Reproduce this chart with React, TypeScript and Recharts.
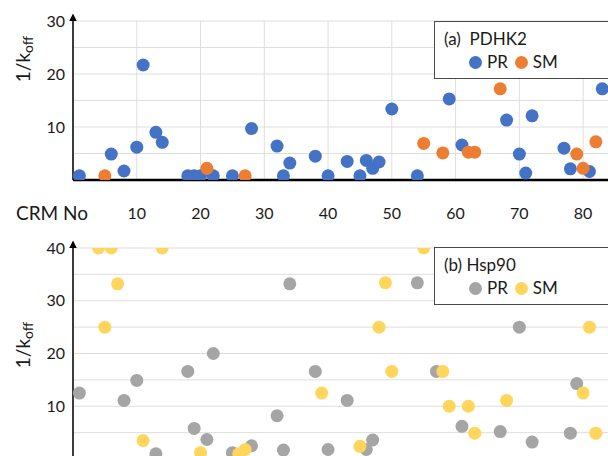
import { ScatterChart, Scatter, XAxis, YAxis, CartesianGrid, Legend } from 'recharts';

const FONT = 'Lato, "Open Sans", sans-serif';

// CRM number axis
const crmTicks = [10, 20, 30, 40, 50, 60, 70, 80];
const pdhkYTicks = [0, 5, 10, 15, 20, 25, 30];
const hspYTicks = [0, 5, 10, 15, 20, 25, 30, 35, 40];

// (a) PDHK2
const pdhkPrX = [1, 6, 8, 10, 11, 13, 14, 18, 19, 20, 22, 25, 28, 32, 33, 34, 38, 40, 43, 45, 46, 47, 48, 50, 54, 59, 61, 68, 70, 71, 72, 77, 78, 81, 83];
const pdhkPrY = [0.8, 4.9, 1.7, 6.2, 21.7, 9, 7.1, 0.8, 0.8, 0.8, 0.8, 0.8, 9.7, 6.4, 0.8, 3.2, 4.5, 0.8, 3.5, 0.8, 3.7, 2.2, 3.4, 13.4, 0.8, 15.3, 6.6, 11.3, 4.9, 1.3, 12.1, 6, 2.1, 1.6, 17.2];
const pdhkSmX = [5, 21, 27, 55, 58, 62, 63, 67, 79, 80, 82];
const pdhkSmY = [0.8, 2.2, 0.8, 6.9, 5.1, 5.25, 5.25, 17.2, 4.9, 2.2, 7.2];

// (b) Hsp90
const hspPrX = [1, 8, 10, 13, 18, 19, 21, 22, 25, 28, 32, 33, 34, 38, 40, 43, 46, 47, 54, 57, 61, 67, 70, 72, 78, 79];
const hspPrY = [12.5, 11.1, 14.9, 1, 16.6, 5.8, 3.7, 20, 1.2, 2.5, 8.2, 1.7, 33.2, 16.6, 1.8, 11.1, 1.8, 3.6, 33.4, 16.6, 6.2, 5.2, 25, 3.2, 4.9, 14.3];
const hspSmX = [4, 5, 6, 7, 11, 14, 20, 26, 27, 39, 45, 48, 49, 50, 55, 58, 59, 62, 63, 68, 80, 81, 82];
const hspSmY = [40, 25, 40, 33.2, 3.5, 40, 1.2, 1, 1.8, 12.5, 2.4, 25, 33.4, 16.6, 40, 16.6, 10, 10, 4.9, 11.1, 12.5, 25, 4.9];

const zip = (xs: number[], ys: number[]) => xs.map((x, i) => ({ x, y: ys[i] }));

const Dot = (p: any) => <circle cx={p.cx} cy={p.cy} r={6.5} fill={p.fill} />;

const tenOnly = (v: number) => (v !== 0 && v % 10 === 0 ? String(v) : '');

function YLabel({ viewBox, centerY }: any) {
  const x = 30;
  const y = viewBox.y + centerY;
  return (
    <text x={x} y={y} transform={`rotate(-90 ${x} ${y})`} textAnchor="middle" fontSize={19} fill="#1a1a1a" fontFamily={FONT}>
      1/k<tspan dy={3} fontSize={14}>off</tspan>
    </text>
  );
}

function makeLegend(title: string) {
  return ({ payload }: any) => (
    <div
      style={{
        width: 190,
        height: 58,
        boxSizing: 'border-box',
        border: '1.5px solid #4a4a4a',
        background: '#fff',
        position: 'relative',
        fontFamily: FONT,
        color: '#1a1a1a',
      }}
    >
      <div style={{ position: 'absolute', left: 9, top: 6, fontSize: 17, lineHeight: '22px', whiteSpace: 'pre' }}>{title}</div>
      <div style={{ position: 'absolute', left: 34, top: 29, display: 'flex', alignItems: 'center', fontSize: 17, lineHeight: '22px' }}>
        {(payload || []).map((e: any, i: number) => (
          <span key={i} style={{ display: 'flex', alignItems: 'center', marginRight: 7 }}>
            <span style={{ width: 13, height: 13, borderRadius: '50%', background: e.color, marginRight: 5 }} />
            {e.value}
          </span>
        ))}
      </div>
    </div>
  );
}

const arrowDefs = (id: string) => (
  <defs>
    <marker id={id} viewBox="0 0 10 10" refX="0" refY="5" markerWidth="5" markerHeight="5" orient="auto-start-reverse">
      <path d="M0,0 L10,5 L0,10 z" fill="#000" />
    </marker>
  </defs>
);

export default function App() {
  return (
    <div style={{ position: 'fixed', left: 0, top: 0, width: 608, height: 456, overflow: 'hidden', background: '#fff' }}>
      <ScatterChart width={620} height={230} margin={{ top: 21, right: 5, bottom: 0, left: 33 }}>
        {arrowDefs('arrA')}
        <CartesianGrid stroke="#dedede" strokeWidth={1} />
        <XAxis
          dataKey="x"
          type="number"
          domain={[0, 85]}
          ticks={crmTicks}
          height={50}
          tickLine={false}
          tickMargin={22}
          axisLine={{ stroke: '#000', strokeWidth: 2.5 }}
          tick={{ fill: '#1a1a1a', fontSize: 16, fontFamily: FONT }}
          label={{
            content: (p: any) => (
              <text x={16} y={220} fontSize={19} fill="#1a1a1a" fontFamily={FONT}>
                CRM No
              </text>
            ),
          }}
        />
        <XAxis xAxisId="top" orientation="top" type="number" domain={[0, 85]} height={0} tick={false} tickLine={false} axisLine={{ stroke: '#000', strokeWidth: 2.5 }} />
        <YAxis
          dataKey="y"
          type="number"
          domain={[0, 30]}
          ticks={pdhkYTicks}
          width={40}
          allowDataOverflow
          tickLine={false}
          tickFormatter={tenOnly}
          axisLine={{ stroke: '#000', strokeWidth: 1.5, markerStart: 'url(#arrA)' }}
          tick={{ fill: '#1a1a1a', fontSize: 16, fontFamily: FONT }}
          label={{ content: (p: any) => <YLabel {...p} centerY={38} /> }}
        />
        <Scatter name="PR" data={zip(pdhkPrX, pdhkPrY)} fill="#4472C4" shape={Dot} isAnimationActive={false} />
        <Scatter name="SM" data={zip(pdhkSmX, pdhkSmY)} fill="#ED7D31" shape={Dot} isAnimationActive={false} />
        <Legend layout="vertical" align="center" verticalAlign="middle" wrapperStyle={{ left: 434, top: 21, width: 190 }} content={makeLegend('(a)  PDHK2')} />
      </ScatterChart>
      <ScatterChart width={620} height={250} margin={{ top: 18, right: 5, bottom: 21, left: 33 }}>
        {arrowDefs('arrB')}
        <CartesianGrid stroke="#dedede" strokeWidth={1} />
        <XAxis dataKey="x" type="number" domain={[0, 85]} ticks={crmTicks} height={0} tick={false} tickLine={false} axisLine={{ stroke: '#000', strokeWidth: 2.5 }} />
        <XAxis xAxisId="top" orientation="top" type="number" domain={[0, 85]} height={0} tick={false} tickLine={false} axisLine={{ stroke: '#000', strokeWidth: 2.5 }} />
        <YAxis
          dataKey="y"
          type="number"
          domain={[0, 40]}
          ticks={hspYTicks}
          width={40}
          allowDataOverflow
          tickLine={false}
          tickFormatter={tenOnly}
          axisLine={{ stroke: '#000', strokeWidth: 1.5, markerStart: 'url(#arrB)' }}
          tick={{ fill: '#1a1a1a', fontSize: 16, fontFamily: FONT }}
          label={{ content: (p: any) => <YLabel {...p} centerY={97} /> }}
        />
        <Scatter name="PR" data={zip(hspPrX, hspPrY)} fill="#A5A5A5" shape={Dot} isAnimationActive={false} />
        <Scatter name="SM" data={zip(hspSmX, hspSmY)} fill="#FFD55C" shape={Dot} isAnimationActive={false} />
        <Legend layout="vertical" align="center" verticalAlign="middle" wrapperStyle={{ left: 434, top: 17, width: 190 }} content={makeLegend('(b) Hsp90')} />
      </ScatterChart>
    </div>
  );
}
